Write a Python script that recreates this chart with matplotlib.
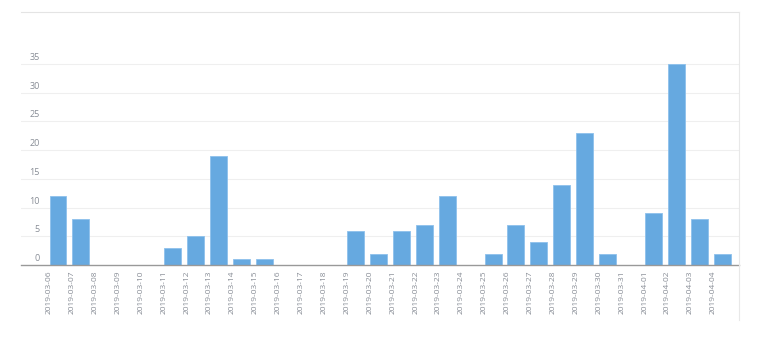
import matplotlib
matplotlib.use("Agg")
import matplotlib.pyplot as plt
from matplotlib.lines import Line2D
import numpy as np

plt.rcParams['font.family'] = ['Open Sans', 'DejaVu Sans']

# données
dates = ["2019-03-06", "2019-03-07", "2019-03-08", "2019-03-09", "2019-03-10",
         "2019-03-11", "2019-03-12", "2019-03-13", "2019-03-14", "2019-03-15",
         "2019-03-16", "2019-03-17", "2019-03-18", "2019-03-19", "2019-03-20",
         "2019-03-21", "2019-03-22", "2019-03-23", "2019-03-24", "2019-03-25",
         "2019-03-26", "2019-03-27", "2019-03-28", "2019-03-29", "2019-03-30",
         "2019-03-31", "2019-04-01", "2019-04-02", "2019-04-03", "2019-04-04"]
valeurs = [12, 8, 0, 0, 0, 3, 5, 19, 1, 1, 0, 0, 0, 6, 2,
           6, 7, 12, 0, 2, 7, 4, 14, 23, 2, 0, 9, 35, 8, 2]
yticks = [0, 5, 10, 15, 20, 25, 30, 35]

W, H = 760, 349
fig = plt.figure(figsize=(W / 100, H / 100), dpi=100)
# zone du graphique en pixels : x 21..739, y 12..265
ax = fig.add_axes([21 / W, (H - 265) / H, (739 - 21) / W, (265 - 12) / H])

x = np.arange(len(dates))
ax.bar(x, valeurs, width=0.74, color="#66a9e0", edgecolor="#8dc1ec", linewidth=0.6, zorder=3)

ax.set_xlim(-1.616, 29.74)
ax.set_ylim(0, 44.07)

# grille horizontale
for v in yticks[1:]:
    ax.axhline(v, color="#efefef", linewidth=0.8, zorder=1)
# etiquettes y dessinees au-dessus des lignes
for v in yticks:
    ax.text(-0.8, v + 0.35, str(v), ha="right", va="bottom", fontsize=6.5, color="#888d96")
ax.set_yticks([])

ax.set_xticks(x - 0.38)
ax.set_xticklabels(dates, rotation=90, fontsize=6, color="#888d96")
ax.tick_params(axis="x", length=0, pad=4)

for s in ["left", "right"]:
    ax.spines[s].set_visible(False)
ax.spines["top"].set_color("#e4e4e4")
ax.spines["top"].set_linewidth(0.8)
ax.spines["bottom"].set_color("#999999")
ax.spines["bottom"].set_linewidth(1.0)
ax.spines["bottom"].set_zorder(4)

# bordure droite qui descend sous l'axe
fig.add_artist(Line2D([739 / W, 739 / W], [(H - 12) / H, (H - 320) / H],
                      color="#e8e8e8", linewidth=0.8))

fig.savefig("out.png", dpi=100)
